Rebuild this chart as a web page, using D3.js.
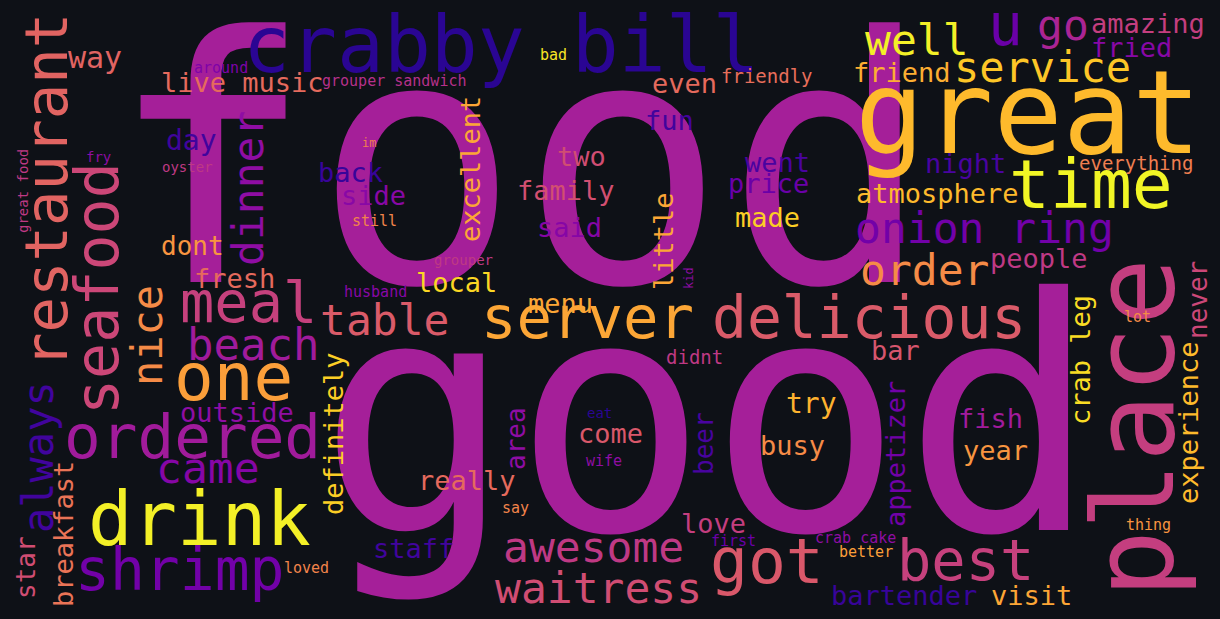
<!DOCTYPE html>
<html>
<head>
<meta charset="utf-8">
<script src="https://cdn.jsdelivr.net/npm/d3@7"></script>
<style>
html, body { margin: 0; padding: 0; background: #0e1117; }
</style>
</head>
<body>
<div id="cloud"></div>
<script>
var width = 1220;
var height = 619;

// word list, in layout order
var words = ["food","good","crabby bill","great","time","place","restaurant","seafood",
  "ordered","drink","shrimp","one","meal","server","delicious","got","best","dinner",
  "nice","always","beach","table","came","onion ring","order","well","service","u","go",
  "waitress","awesome","way","live music","day","back","side","dont","fresh","outside",
  "breakfast","star","definitely","staff","even","fun","excellent","two","family","said",
  "little","went","price","made","local","menu","amazing","fried","friend","night",
  "atmosphere","people","never","experience","crab leg","bar","try","busy","appetizer",
  "fish","year","bartender","visit","love","come","really","area","beer","everything",
  "friendly","didnt","around","grouper sandwich","fry","oyster","great food","im","still",
  "husband","loved","bad","grouper","kid","lot","thing","crab cake","better","first",
  "eat","wife","say"];

// font weight of each word (em size)
var weights = [342,324,78,115,68,113,59,60,
  61,74,58,66,57,59,58,63,57,43,
  42,42,44,43,43,43,43,43,42,58,43,
  43,43,30,27,28,27,27,26,27,27,
  27,26,27,27,27,27,27,27,27,27,
  27,27,27,27,27,27,27,27,27,27,
  27,27,26,27,27,27,28,27,27,
  27,27,27,27,27,27,27,26,26,19,
  19,19,15,15,14,14,14,12,15,
  15,15,15,14,12,15,15,15,15,15,
  14,15,15];

// layout position: text origin (baseline start) in picture units
var posX = [108,318,243,855,1009,1173,67,118,
  64,88,75,174,180,481,712,710,897,263,
  162,53,187,320,156,855,860,865,954,988,1037,
  495,503,68,161,166,318,341,161,194,180,
  73,35,343,373,652,645,480,557,517,537,
  673,745,728,735,416,528,1091,1091,853,925,
  856,990,1207,1198,1090,871,786,760,905,
  958,963,831,991,681,578,418,525,713,1079,
  721,666,194,322,86,162,28,362,352,
  344,284,540,434,693,1124,1126,815,839,711,
  587,586,502];
var posY = [282,530,72,153,208,598,368,415,
  458,545,590,400,322,338,338,583,580,266,
  386,533,360,335,483,243,285,55,82,45,40,
  603,562,68,92,150,182,205,255,288,422,
  607,599,515,558,93,130,242,166,200,237,
  290,172,193,227,292,313,33,57,82,173,
  203,268,339,504,425,360,413,455,527,
  428,460,605,605,533,443,490,470,475,170,
  83,364,73,86,162,172,233,147,226,
  297,573,60,265,289,322,530,543,557,546,
  418,466,513];

// 1 = rotated to read bottom to top
var vertical = [0,0,0,0,0,1,1,1,
  0,0,0,0,0,0,0,0,0,1,
  1,1,0,0,0,0,0,0,0,0,0,
  0,0,0,0,0,0,0,0,0,0,
  1,1,1,0,0,0,1,0,0,0,
  1,0,0,0,0,0,0,0,0,0,
  0,0,1,1,1,0,0,0,1,
  0,0,0,0,0,0,0,1,1,0,
  0,0,0,0,0,0,1,0,0,
  0,0,0,0,1,0,0,0,0,0,
  0,0,0];

// colour position on the plasma map
var tones = [.36,.36,.05,.85,.99,.47,.6,.5,
  .35,.98,.22,.78,.48,.8,.57,.56,.48,.3,
  .72,.1,.35,.57,.27,.22,.72,.98,.88,.2,.38,
  .52,.45,.6,.62,.1,.08,.28,.75,.62,.3,
  .65,.52,.9,.1,.62,.1,.8,.52,.53,.27,
  .8,.12,.2,.9,.92,.8,.47,.28,.82,.12,
  .85,.45,.5,.85,.93,.55,.83,.72,.22,
  .35,.75,.08,.8,.47,.56,.62,.3,.12,.68,
  .63,.45,.25,.42,.3,.45,.45,.68,.7,
  .28,.7,.95,.45,.3,.72,.75,.3,.78,.2,
  .05,.3,.7];

var data = words.map(function(w, i){
  return {text: w, weight: weights[i], px: posX[i], py: posY[i], rot: vertical[i], tone: tones[i]};
});

var svg = d3.select('#cloud').append('svg')
  .attr("width", width)
  .attr("height", height);

svg.append('rect')
  .attr("width", width)
  .attr("height", height)
  .attr("fill", "#0e1117");

//scalers
var x = d3.scaleLinear().domain([0, 1220]).range([0, width]);
var y = d3.scaleLinear().domain([0, 619]).range([0, height]);
var size = d3.scaleLinear().domain([0, 342]).range([0, 342]);
var color = d3.scaleSequential(d3.interpolatePlasma).domain([0, 1]);

svg.selectAll('text')
  .data(data)
  .enter()
  .append('text')
  .attr("transform", function(d){
    return "translate(" + x(d.px) + "," + y(d.py) + ")" + (d.rot ? " rotate(-90)" : "");
  })
  .attr("font-family", "'DejaVu Sans Mono', monospace")
  .attr("font-size", function(d){ return size(d.weight); })
  .attr("fill", function(d){ return color(d.tone); })
  .style("white-space", "pre")
  .text(function(d){ return d.text; });
</script>
</body>
</html>
